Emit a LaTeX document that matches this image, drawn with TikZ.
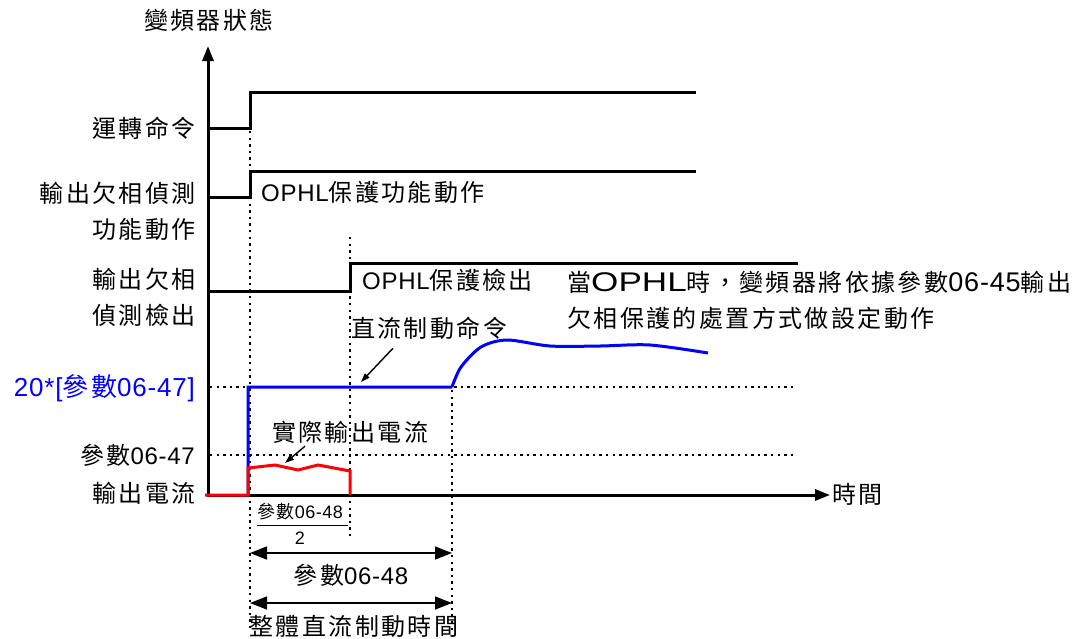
\documentclass[tikz,border=0pt]{standalone}
\usepackage{fontspec}
\setmainfont{Noto Sans CJK TC}[LetterSpace=10]
\newfontfamily\latinfont{Liberation Sans}[LetterSpace=3]
\newfontfamily\stretchfont{Liberation Sans}[FakeStretch=1.3]
\newcommand*{\lat}[1]{{\latinfont #1}}
\newcommand*{\biglat}[1]{{\latinfont\fontsize{27}{36}\selectfont #1}}
\usetikzlibrary{arrows.meta}

\begin{document}
\begin{tikzpicture}
[
	x=1pt,y=-1pt,
	signal/.style={line width=3pt,line join=miter},
	guide/.style={line width=2.4pt,dash pattern=on 2.4pt off 4.2pt},
	axis/.style={line width=3pt,-{Triangle[length=15pt,width=11pt]}},
	dim/.style={line width=1.5pt,{Triangle[length=17pt,width=13pt]}-{Triangle[length=17pt,width=13pt]}},
	pointer/.style={line width=1.4pt,-{Triangle[length=9pt,width=6pt]}},
	lbl/.style={inner sep=0pt,font=\fontsize{24}{36}\selectfont},
	smalllbl/.style={inner sep=0pt,font=\fontsize{18}{20}\selectfont}
]
	\useasboundingbox (0,0) rectangle (1087,638);

	% axes
	\draw[axis] (208,497) -- (208,46);
	\draw[axis] (208,495) -- (830,495);
	\node[lbl,anchor=base] (state) at (209,29) {變頻器狀態};
	\node[lbl,anchor=base west] (time) at (832,503) {時間};

	% guides
	\draw[guide] (250,131) -- (250,630);
	\draw[guide] (350,237) -- (350,538);
	\draw[guide] (452,390) -- (452,630);
	\draw[guide] (210,387) -- (796,387);
	\draw[guide] (210,455) -- (796,455);

	% run command
	\draw[signal] (208,128) -- (250,128) -- (250,92) -- (696,92);
	\node[lbl,anchor=base east] (run) at (196,137) {運轉命令};

	% phase loss function
	\draw[signal] (208,197) -- (250,197) -- (250,171) -- (696,171);
	\node[lbl,anchor=east,align=right] (func) at (196,211) {輸出欠相偵測\\功能動作};
	\node[lbl,anchor=base west] (funcon) at (261,201) {\lat{OPHL}保護功能動作};

	% phase loss detected
	\draw[signal] (208,291) -- (350,291) -- (350,263) -- (798,263);
	\node[lbl,anchor=east,align=right] (detect) at (196,297) {輸出欠相\\偵測檢出};
	\node[lbl,anchor=base west] (detecton) at (362,289) {\lat{OPHL}保護檢出};
	\node[lbl,anchor=west,align=left] (note) at (567,300) {當{\stretchfont\fontsize{27}{36}\selectfont OPHL}時，變頻器將依據參數\biglat{06-45}輸出\\欠相保護的處置方式做設定動作};

	% dc brake command
	\draw[signal,blue] (248,495) -- (248,387) -- (452,387)
		plot[smooth] coordinates {(452,387) (461,367) (481,347) (507,340) (550,346) (600,346) (650,345) (708,353)};
	\node[lbl,anchor=base west] (dcb) at (351,337) {直流制動命令};
	\coordinate (dcbtip) at (361,382);
	\draw[pointer] (dcb.south west) ++(42,9) coordinate (dcbfrom) -- (dcbtip);
	\node[lbl,anchor=base east,text=blue,font=\fontsize{26}{36}\selectfont] (lim) at (195,396) {\lat{20*[}參數\lat{06-47]}};
	\node[lbl,anchor=base east] (lev) at (195,464) {參數\lat{06-47}};

	% output current
	\draw[signal,red] (205,495) -- (248,495) -- (248,468) -- (275,465) -- (298,470) -- (318,465) -- (350,471) -- (350,495);
	\node[lbl,anchor=base east] (cur) at (196,502) {輸出電流};
	\node[lbl,anchor=base west] (actual) at (272,441) {實際輸出電流};
	\coordinate (actualtip) at (285,463);
	\draw[pointer] (actual.south west) ++(33,3) coordinate (actualfrom) -- (actualtip);

	% times
	\node[smalllbl] (fnum) at (300,512) {參數\lat{06-48}};
	\draw[line width=1.2pt] (fnum.south west) ++(0,5) -- ++(91,0);
	\node[smalllbl] (fden) at (300,538) {\lat{2}};
	\coordinate (t0a) at (250,553);
	\coordinate (t1a) at (452,553);
	\draw[dim] (t0a) -- (t1a);
	\node[lbl] (brk) at (351,575) {參數\lat{06-48}};
	\coordinate (t0b) at (250,603);
	\coordinate (t1b) at (452,603);
	\draw[dim] (t0b) -- (t1b);
	\node[lbl] (total) at (354,626) {整體直流制動時間};

\end{tikzpicture}
\end{document}
